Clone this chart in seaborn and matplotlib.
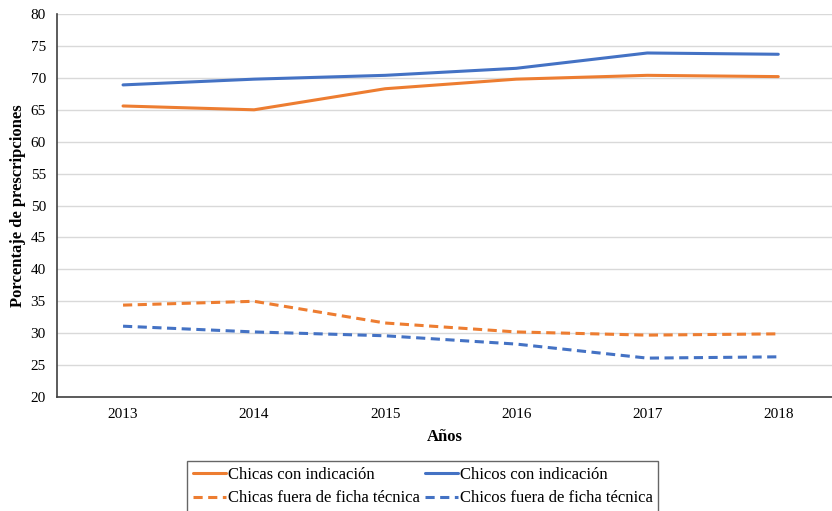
import matplotlib
matplotlib.use("Agg")
import matplotlib.pyplot as plt
import seaborn as sns
import pandas as pd

years = [2013, 2014, 2015, 2016, 2017, 2018]
chicas_con = [65.6, 65.0, 68.3, 69.8, 70.4, 70.2]
chicos_con = [68.9, 69.8, 70.4, 71.5, 73.9, 73.7]
chicas_fuera = [34.4, 35.0, 31.6, 30.2, 29.7, 29.9]
chicos_fuera = [31.1, 30.2, 29.6, 28.3, 26.1, 26.3]

labels = ["Chicas con indicación", "Chicas fuera de ficha técnica",
          "Chicos con indicación", "Chicos fuera de ficha técnica"]
series = [chicas_con, chicas_fuera, chicos_con, chicos_fuera]
colors = ["#ED7D31", "#ED7D31", "#4472C4", "#4472C4"]
dashed = [False, True, False, True]

sns.set_style("white")
plt.rcParams["font.family"] = ["Liberation Serif", "DejaVu Serif"]
plt.rcParams["text.color"] = "black"

fig = plt.figure(figsize=(8.32, 5.11), dpi=100)
ax = fig.add_axes([0.0685, 0.223, 0.9315, 0.7495])

for lab, vals, c, d in zip(labels, series, colors, dashed):
    df = pd.DataFrame({"year": years, "val": vals})
    line = sns.lineplot(data=df, x="year", y="val", ax=ax, color=c,
                        linewidth=2.2, label=lab).lines[-1]
    if d:
        line.set_dashes((3, 1.8))

ax.set_ylim(20, 80)
ax.set_xlim(2012.496, 2018.41)
ax.set_yticks(range(20, 81, 5))
ax.set_xticks(years)
ax.yaxis.grid(True, color="#d9d9d9", linewidth=1)
ax.set_axisbelow(True)
for s in ["top", "right"]:
    ax.spines[s].set_visible(False)
for s in ["left", "bottom"]:
    ax.spines[s].set_color("#404040")
    ax.spines[s].set_linewidth(1.2)
ax.tick_params(axis="both", labelsize=11, length=0, pad=8, labelcolor="black")
ax.set_xlabel("Años", fontsize=12, fontweight="bold", labelpad=6, color="black")
ax.set_ylabel("Porcentaje de prescripciones", fontsize=12, fontweight="bold",
              labelpad=3, color="black")

leg = ax.legend(ncol=2, loc="upper left", bbox_to_anchor=(187 / 832, 1 - 461 / 511),
                bbox_transform=fig.transFigure, fontsize=12, frameon=True,
                fancybox=False, edgecolor="#404040", handlelength=2.0,
                handletextpad=0.1, columnspacing=0.3, borderpad=0.35,
                labelspacing=0.45, borderaxespad=0)
for h in leg.get_lines():
    h.set_linewidth(2.2)

fig.savefig("out.png", dpi=100)
